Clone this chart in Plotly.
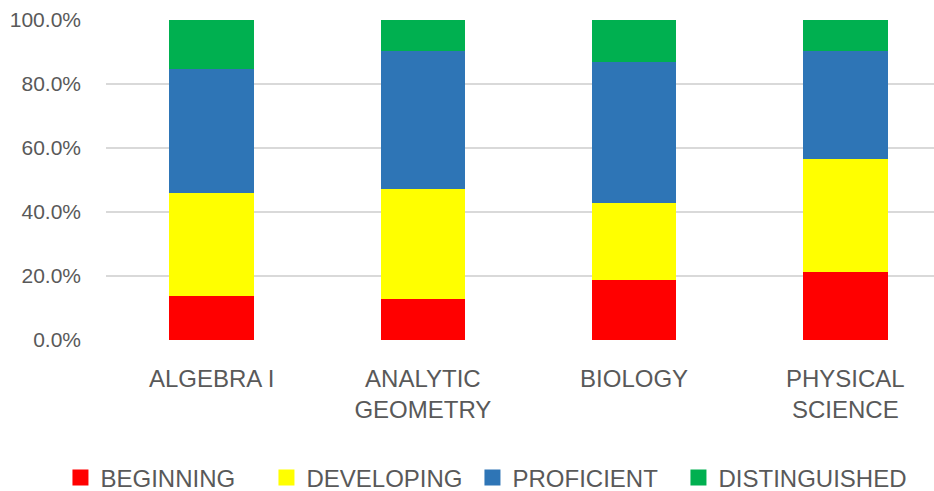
import plotly.graph_objects as go

categories = ["ALGEBRA I", "ANALYTIC<br>GEOMETRY", "BIOLOGY", "PHYSICAL<br>SCIENCE"]
beginning = [13.8, 12.9, 18.8, 21.2]
developing = [32.1, 34.2, 24.1, 35.5]
proficient = [38.7, 43.2, 44.0, 33.6]
distinguished = [15.4, 9.7, 13.1, 9.7]
tick_vals = [0, 20, 40, 60, 80, 100]
tick_text = ["0.0%", "20.0%", "40.0%", "60.0%", "80.0%", "100.0%"]

series = [
    ("BEGINNING", beginning, "#FF0000"),
    ("DEVELOPING", developing, "#FFFF00"),
    ("PROFICIENT", proficient, "#2E75B6"),
    ("DISTINGUISHED", distinguished, "#00B050"),
]
legend_widths = [161, 161, 161, 205]

font_family = "Liberation Sans, Arial, sans-serif"

fig = go.Figure()
for name, vals, color in series:
    fig.add_trace(go.Bar(x=categories, y=vals, name=name, marker_color=color,
                         marker_line_width=0, showlegend=False, legendgroup=name))
# legend entries with larger square symbols
for (name, vals, color), lw in zip(series, legend_widths):
    fig.add_trace(go.Scatter(x=[None], y=[None], mode="markers", name=name,
                             legendgroup=name, legendwidth=lw,
                             marker=dict(symbol="square", size=16, color=color)))

fig.update_layout(
    barmode="stack",
    bargap=0.6,
    width=934, height=491,
    margin=dict(l=106, r=0, t=20, b=151, autoexpand=False),
    paper_bgcolor="white", plot_bgcolor="white",
    font=dict(family=font_family, color="#595959", size=21),
    legend=dict(orientation="h", x=-0.055, xanchor="left",
                y=-0.431, yanchor="middle",
                font=dict(size=24), itemwidth=30, traceorder="normal"),
    showlegend=True,
)
fig.update_xaxes(range=[-0.5, 3.42], showgrid=False, showline=False, ticks="",
                 tickfont=dict(size=24), ticklabelstandoff=22, automargin=False)
fig.update_yaxes(range=[0, 100], tickvals=tick_vals, ticktext=tick_text,
                 showgrid=True, gridcolor="#D9D9D9", gridwidth=1.5, zeroline=False,
                 showline=False, ticks="", tickfont=dict(size=21), ticklabelstandoff=24,
                 automargin=False)

fig.write_html("out.html", config={"displayModeBar": False},
               post_script="document.body.style.margin='0';")
